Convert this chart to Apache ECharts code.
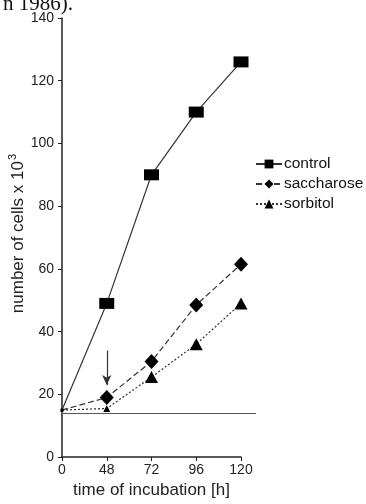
<!DOCTYPE html>
<html><head><meta charset="utf-8">
<script src="https://cdn.jsdelivr.net/npm/echarts@6/dist/echarts.min.js"></script>
<style>html,body{margin:0;padding:0;background:#fff}#c{width:366px;height:504px}</style>
</head><body><div id="c"></div>
<script>
const categories = ['0', '48', '72', '96', '120'];
const control = [15, 49, 90, 110, 126];
const saccharose = [15, 19, 30.5, 48.5, 61.5];
const sorbitol = [15, 15.5, 25.5, 36, 49];
const baselineValue = 15;
const arrowFrom = 34, arrowTo = 23, arrowAt = '48';
const yTicks = {min: 0, max: 140, interval: 20};

const chart = echarts.init(document.getElementById('c'));
const font = 'Liberation Sans, Arial, sans-serif';
const ink = '#222';
chart.setOption({
  animation: false,
  title: {text: 'n 1986).', left: -2, top: -11, textStyle: {fontFamily: 'Liberation Serif, Times New Roman, serif', fontSize: 21, fontWeight: 'normal', color: '#111'}},
  grid: [
    {left: 62, right: 125, top: 18, bottom: 43},
    {left: 62, right: 110, top: 18, bottom: 43}
  ],
  legend: {
    orient: 'vertical', left: 250, top: 151, itemWidth: 26, itemHeight: 11, itemGap: 4,
    data: ['control', 'saccharose', 'sorbitol'],
    textStyle: {fontFamily: font, fontSize: 15.5, color: '#111', padding: [0, 0, 0, -3]}
  },
  xAxis: [
    {type: 'category', gridIndex: 0, data: categories, boundaryGap: false,
     axisLine: {lineStyle: {color: ink, width: 1.5}},
     axisTick: {show: true, length: 4, inside: false, lineStyle: {color: ink}},
     axisLabel: {fontFamily: font, fontSize: 14, color: ink, margin: 6},
     name: 'time of incubation [h]', nameLocation: 'middle', nameGap: 20,
     nameTextStyle: {fontFamily: font, fontSize: 17, color: ink}},
    {type: 'value', gridIndex: 1, min: 0, max: 1, show: false}
  ],
  yAxis: [
    {type: 'value', gridIndex: 0, min: yTicks.min, max: yTicks.max, interval: yTicks.interval,
     splitLine: {show: false},
     axisLine: {show: true, lineStyle: {color: ink, width: 1.5}},
     axisTick: {show: true, length: 4, lineStyle: {color: ink}},
     axisLabel: {fontFamily: font, fontSize: 14, color: ink, margin: 8},
     name: '{a|number of cells x 10}{s|3}', nameLocation: 'middle', nameGap: 29, nameRotate: 90,
     nameTextStyle: {fontFamily: font, fontSize: 17, color: ink, padding: [0, 0, 0, 8],
       rich: {a: {fontFamily: font, fontSize: 17, color: ink},
              s: {fontFamily: font, fontSize: 11, color: ink, verticalAlign: 'top', padding: [0, 0, 10, 1]}}}},
    {type: 'value', gridIndex: 1, min: yTicks.min, max: yTicks.max, show: false}
  ],
  series: [
    {type: 'line', xAxisIndex: 1, yAxisIndex: 1, silent: true, symbol: 'none',
     data: [[0, baselineValue], [1, baselineValue]], lineStyle: {color: '#555', width: 1}, z: 1},
    {name: 'control', type: 'line', data: control, color: '#000',
     symbol: 'rect', symbolSize: (v, p) => p.dataIndex === 0 ? 3 : [15, 11],
     lineStyle: {color: '#333', width: 1.2}, itemStyle: {color: '#000'}},
    {name: 'saccharose', type: 'line', data: saccharose, color: '#000',
     symbol: 'diamond', symbolSize: (v, p) => p.dataIndex === 0 ? 3 : [14, 15],
     lineStyle: {color: '#333', width: 1.2, type: [6, 3]}, itemStyle: {color: '#000'},
     markLine: {silent: true, symbol: ['none', 'arrow'], symbolSize: [7, 10],
       lineStyle: {color: '#333', width: 1.2, type: 'solid'}, label: {show: false},
       data: [[{coord: [arrowAt, arrowFrom]}, {coord: [arrowAt, arrowTo]}]]}},
    {name: 'sorbitol', type: 'line', data: sorbitol, color: '#000',
     symbol: 'triangle', symbolSize: (v, p) => p.dataIndex === 0 ? 3 : (p.dataIndex === 1 ? 7 : [13, 12]),
     lineStyle: {color: '#333', width: 1.2, type: [2, 2]}, itemStyle: {color: '#000'}}
  ]
});
</script></body></html>
